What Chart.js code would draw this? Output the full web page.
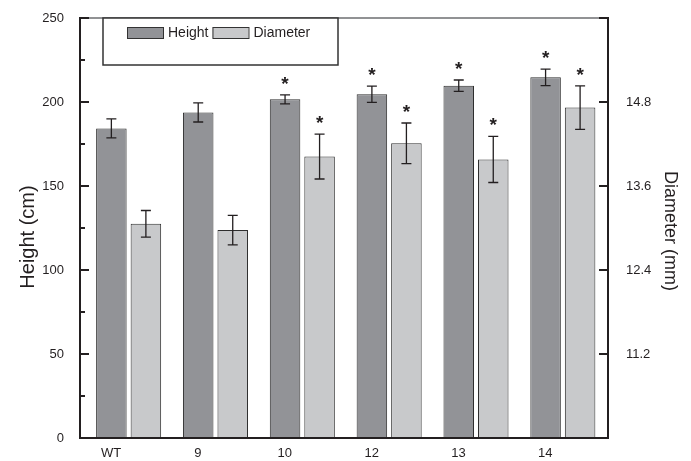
<!DOCTYPE html>
<html>
<head>
<meta charset="utf-8">
<script src="https://cdn.jsdelivr.net/npm/chart.js@4.4.1/dist/chart.umd.min.js"></script>
<style>
  html, body { margin: 0; padding: 0; background: #fff; }
  #wrap { width: 691px; height: 461px; }
</style>
</head>
<body>
<div id="wrap"><canvas id="c" width="691" height="461"></canvas></div>
<script>
// Lines and their measurements
const categories = ['WT', '9', '10', '12', '13', '14'];
const heightMeans = [184.3, 193.8, 201.6, 204.6, 209.7, 214.7];   // cm
const heightErr = [5.7, 5.7, 2.7, 4.8, 3.4, 4.9];
const diameterMeans = [13.06, 12.97, 14.02, 14.21, 13.98, 14.72]; // mm
const diameterErr = [0.19, 0.21, 0.32, 0.29, 0.33, 0.31];
const heightSig = [false, false, true, true, true, true];
const diameterSig = [false, false, true, true, true, true];

// Axis ticks
const heightTicks = [0, 50, 100, 150, 200, 250];
const diameterTicks = [10, 11.2, 12.4, 13.6, 14.8, 16];
const diameterLabelled = [11.2, 12.4, 13.6, 14.8];

const INK = '#231f20';
const FONT = '"Liberation Sans", Arial, sans-serif';

// error bars, asterisks, axis frame, tick marks, legend and axis titles
const decorations = {
  id: 'decorations',
  afterDatasetsDraw(chart) {
    const ctx = chart.ctx;
    const errs = [heightErr, diameterErr];
    const sigs = [heightSig, diameterSig];
    chart.data.datasets.forEach((ds, di) => {
      const meta = chart.getDatasetMeta(di);
      const ys = chart.scales[ds.yAxisID];
      meta.data.forEach((bar, i) => {
        const v = ds.data[i].y;
        const e = errs[di][i];
        const yt = ys.getPixelForValue(v + e);
        const yb = ys.getPixelForValue(v - e);
        const x = bar.x;
        ctx.save();
        ctx.strokeStyle = INK;
        ctx.lineWidth = 1.3;
        ctx.beginPath();
        ctx.moveTo(x, yt); ctx.lineTo(x, yb);
        ctx.moveTo(x - 5, yt); ctx.lineTo(x + 5, yt);
        ctx.moveTo(x - 5, yb); ctx.lineTo(x + 5, yb);
        ctx.stroke();
        if (sigs[di][i]) {
          ctx.fillStyle = INK;
          ctx.font = 'bold 19px ' + FONT;
          ctx.textAlign = 'center';
          ctx.textBaseline = 'alphabetic';
          ctx.fillText('*', x, yt - 5);
        }
        ctx.restore();
      });
    });
  },
  afterDraw(chart) {
    const ctx = chart.ctx;
    const a = chart.chartArea;
    const y = chart.scales.y, y2 = chart.scales.y2;
    ctx.save();
    // top frame line
    ctx.strokeStyle = '#6d6e70';
    ctx.lineWidth = 1.5;
    ctx.beginPath();
    ctx.moveTo(a.left, a.top); ctx.lineTo(a.right, a.top);
    ctx.stroke();
    // axis lines
    ctx.strokeStyle = INK;
    ctx.lineWidth = 2;
    ctx.beginPath();
    ctx.moveTo(a.left, a.top - 1); ctx.lineTo(a.left, a.bottom + 1);
    ctx.moveTo(a.left - 1, a.bottom); ctx.lineTo(a.right + 1, a.bottom);
    ctx.moveTo(a.right, a.top - 1); ctx.lineTo(a.right, a.bottom + 1);
    ctx.stroke();
    // inward tick marks
    ctx.beginPath();
    heightTicks.forEach((t, k) => {
      const p = y.getPixelForValue(t);
      ctx.moveTo(a.left, p); ctx.lineTo(a.left + 9, p);
      if (k < heightTicks.length - 1) {
        const m = y.getPixelForValue((t + heightTicks[k + 1]) / 2);
        ctx.moveTo(a.left, m); ctx.lineTo(a.left + 5, m);
      }
    });
    diameterTicks.forEach(t => {
      const p = y2.getPixelForValue(t);
      ctx.moveTo(a.right, p); ctx.lineTo(a.right - 9, p);
    });
    ctx.stroke();

    // legend box
    const lx = 103, ly = 18, lw = 235, lh = 47;
    ctx.fillStyle = '#fff';
    ctx.fillRect(lx, ly, lw, lh);
    ctx.strokeStyle = '#333';
    ctx.lineWidth = 1.5;
    ctx.strokeRect(lx, ly, lw, lh);
    ctx.font = '14px ' + FONT;
    ctx.textBaseline = 'middle';
    ctx.textAlign = 'left';
    let cx = 127;
    chart.data.datasets.forEach(ds => {
      ctx.fillStyle = ds.backgroundColor;
      ctx.fillRect(cx, 27, 36, 11);
      ctx.strokeStyle = '#333';
      ctx.lineWidth = 1;
      ctx.strokeRect(cx + 0.5, 27.5, 36, 11);
      ctx.fillStyle = INK;
      ctx.fillText(ds.label, cx + 41, 33);
      cx += 41 + ctx.measureText(ds.label).width + 4;
    });

    // axis titles
    ctx.fillStyle = INK;
    ctx.textAlign = 'center';
    ctx.textBaseline = 'middle';
    ctx.save();
    ctx.translate(28, 237);
    ctx.rotate(-Math.PI / 2);
    ctx.font = '20px ' + FONT;
    ctx.fillText('Height (cm)', 0, 0);
    ctx.restore();
    ctx.save();
    ctx.translate(670, 231);
    ctx.rotate(Math.PI / 2);
    ctx.font = '18px ' + FONT;
    ctx.fillText('Diameter (mm)', 0, 0);
    ctx.restore();
    ctx.restore();
  }
};

new Chart(document.getElementById('c'), {
  type: 'bar',
  data: {
    datasets: [
      {
        label: 'Height',
        data: heightMeans.map((v, i) => ({ x: i, y: v })),
        yAxisID: 'y',
        backgroundColor: '#929397',
        borderColor: '#2e2e2e',
        borderWidth: 1
      },
      {
        label: 'Diameter',
        data: diameterMeans.map((v, i) => ({ x: i, y: v })),
        yAxisID: 'y2',
        backgroundColor: '#c8c9cb',
        borderColor: '#2e2e2e',
        borderWidth: 1
      }
    ]
  },
  options: {
    responsive: false,
    animation: false,
    devicePixelRatio: 1,
    categoryPercentage: 0.795,
    barPercentage: 0.884,
    layout: { padding: { top: 18, left: 0, right: 0, bottom: 0 } },
    plugins: { legend: { display: false }, tooltip: { enabled: false } },
    scales: {
      x: {
        type: 'linear',
        offset: false,
        min: -0.56,
        max: 5.52,
        afterBuildTicks: s => { s.ticks = categories.map((_, i) => ({ value: i })); },
        afterFit: s => { s.height = 23; },
        grid: { display: false, drawTicks: false },
        border: { display: false },
        ticks: {
          callback: v => categories[v] ?? '',
          labelOffset: -17.5,
          padding: 8,
          maxRotation: 0,
          autoSkip: false,
          color: INK,
          font: { family: FONT, size: 13 }
        }
      },
      y: {
        position: 'left',
        min: 0,
        max: 250,
        afterBuildTicks: s => { s.ticks = heightTicks.map(v => ({ value: v })); },
        afterFit: s => { s.width = 80; },
        grid: { display: false },
        border: { display: false },
        ticks: { padding: 8, color: INK, font: { family: FONT, size: 13 } }
      },
      y2: {
        position: 'right',
        min: 10,
        max: 16,
        afterBuildTicks: s => { s.ticks = diameterTicks.map(v => ({ value: v })); },
        afterFit: s => { s.width = 83; },
        grid: { display: false },
        border: { display: false },
        ticks: {
          padding: 10,
          color: INK,
          font: { family: FONT, size: 13 },
          callback: v => diameterLabelled.includes(v) ? v.toFixed(1) : ''
        }
      }
    }
  },
  plugins: [decorations]
});
</script>
</body>
</html>
